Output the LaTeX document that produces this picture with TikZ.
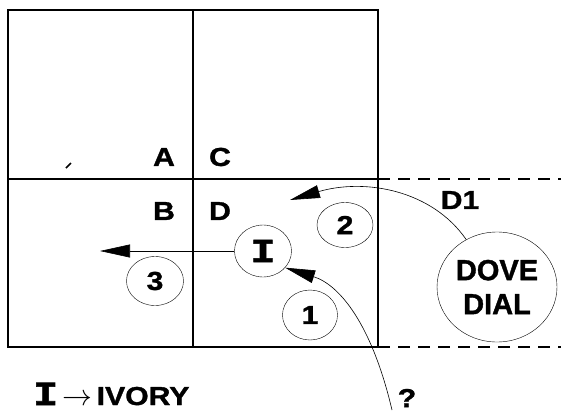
\documentclass[tikz,border=0pt]{standalone}
\usepackage{fontspec}
\setmainfont{Liberation Sans}[BoldFeatures={FakeBold=1.3}]
\newfontfamily\widefont{Liberation Sans}[FakeStretch=1.16, BoldFeatures={FakeBold=1.3}]
\newfontfamily\ibeamfont{Liberation Mono}[BoldFeatures={FakeBold=1.5}]
\usetikzlibrary{arrows.meta,positioning,shapes.geometric}
\newcommand{\ivorysym}{\scalebox{1.6}[1.3]{\ibeamfont\bfseries I}}

\begin{document}
\begin{tikzpicture}[
  x=1pt, y=-1pt,
  numbox/.style={draw, ellipse, thin, inner sep=0pt, align=center, font=\widefont\fontsize{26}{28}\selectfont\bfseries},
  lbl/.style={inner sep=0pt, font=\widefont\fontsize{26}{28}\selectfont\bfseries},
  arr/.style={-{Triangle[length=30pt,width=13pt]}, semithick},
  cutline/.style={dash pattern=on 12pt off 8pt, line width=1.2pt}
]
\useasboundingbox (0,0) rectangle (561,412);

% Quadrants
\draw[line width=2pt] (8,10) rectangle (378,347);
\draw[line width=1.5pt] (193,10) -- (193,347);
\draw[line width=1.5pt] (8,179) -- (378,179);
\draw[cutline] (378,179) -- (561,179);
\draw[cutline] (378,347) -- (561,347);
\draw[line width=1.5pt] (66,168) -- (71,163);

% Quadrant labels
\node[lbl] (qa) at (164,157) {A};
\node[lbl] (qc) at (220,157) {C};
\node[lbl] (qb) at (164,211) {B};
\node[lbl] (qd) at (220,211) {D};
\node[lbl] (done) at (460,200) {D1};

% Ellipses
\node[numbox, minimum width=57pt, minimum height=52pt] (ivory) at (263,251) {\ivorysym};
\node[numbox, minimum width=56pt, minimum height=45pt] (two) at (345,225) {2};
\node[numbox, minimum width=55pt, minimum height=50pt] (one) at (310,315) {1};
\node[numbox, minimum width=57pt, minimum height=49pt] (three) at (155,281) {3};
\node[numbox, minimum width=120pt, minimum height=110pt,
  font=\fontsize{29}{34}\selectfont\bfseries] (dove) at (497,287) {DOVE\\DIAL};

% Free ends
\coordinate (west3) at (100,251);
\coordinate (tip2) at (290,200);
\coordinate (quest) at (392,410);
\node[lbl] (qmark) at (407,398) {?};

% Arrows
\draw[arr] (ivory.west) -- (west3);
\draw[arr] (dove.123) .. controls (432,190) and (365,178) .. (tip2);
\draw[arr] (quest) .. controls (372,325) and (340,285) .. (ivory.-37);

% Legend
\node[lbl, anchor=west] (legend) at (33,394) {\ivorysym\,\scalebox{1.2}{$\rightarrow$}\,IVORY};

\end{tikzpicture}
\end{document}
